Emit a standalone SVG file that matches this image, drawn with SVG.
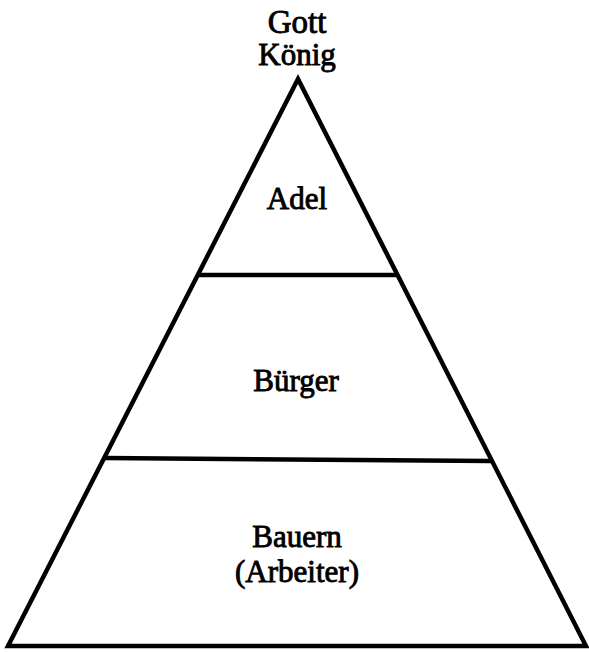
<svg xmlns="http://www.w3.org/2000/svg" width="589" height="652" viewBox="0 0 589 652">
<style>
.t{font-family:"Liberation Serif","Times New Roman",serif;font-size:31px;fill:#000;stroke:#000;stroke-width:0.9;text-anchor:middle}
.ln{stroke:#000;stroke-width:4.5;fill:none;stroke-linejoin:miter}
</style>
<rect width="589" height="652" fill="#fff"/>
<g id="connectors">
<polygon class="ln" points="298,79 8,646 586,646"/>
<line class="ln" x1="199" y1="275" x2="397" y2="275"/>
<line class="ln" x1="105" y1="458" x2="491" y2="461"/>
</g>
<g id="gott"><text class="t" x="297" y="33" style="font-size:33px">Gott</text></g>
<g id="koenig"><text class="t" x="297" y="65">König</text></g>
<g id="adel"><text class="t" x="297" y="209">Adel</text></g>
<g id="buerger"><text class="t" x="296" y="391">Bürger</text></g>
<g id="bauern"><text class="t" x="297" y="547">Bauern</text><text class="t" x="297" y="582">(Arbeiter)</text></g>
</svg>
